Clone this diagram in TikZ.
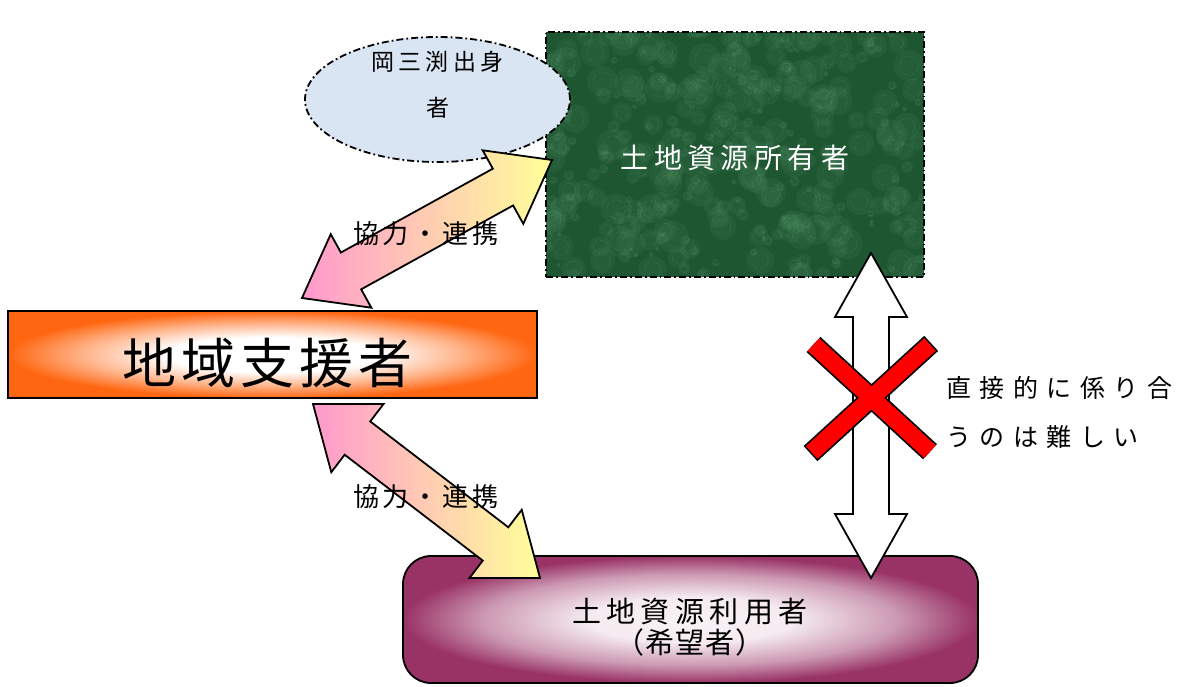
\documentclass[tikz,border=0pt]{standalone}
\usepackage{fontspec}
\newfontfamily\jp{Noto Sans CJK JP}
\usetikzlibrary{shapes.geometric,calc}
\definecolor{orgC}{HTML}{FF6611}
\definecolor{marC}{HTML}{993366}
\definecolor{grnC}{HTML}{1F5632}
\definecolor{grnL}{HTML}{7CC595}
\definecolor{ellC}{HTML}{DAE5F3}
\definecolor{pinkC}{HTML}{FF99CC}
\definecolor{yelC}{HTML}{FFFF99}
\definecolor{redC}{HTML}{FF0000}
\pgfdeclareradialshading{orgglow}{\pgfpoint{0bp}{0bp}}{color(0bp)=(white); color(10bp)=(white); color(18bp)=(orgC!50!white); color(25bp)=(orgC); color(50bp)=(orgC)}
\pgfdeclareradialshading{marglow}{\pgfpoint{0bp}{0bp}}{color(0bp)=(marC!6!white); color(9bp)=(marC!10!white); color(18bp)=(marC!50!white); color(25bp)=(marC); color(50bp)=(marC)}
\makeatletter
\newcommand\ltsp[2]{\def\lt@first{1}\@tfor\lt@c:=#2\do{\ifx\lt@first\@empty\hspace{#1}\fi\let\lt@first\@empty\lt@c}}
\makeatother
% block double arrow: tips #1,#2; head length #3; head half width #4; shaft half width #5; style #6
\newcommand\myblockarrow[6]{%
  \coordinate (bh1) at ($(#1)!#3!(#2)$);
  \coordinate (bh2) at ($(#2)!#3!(#1)$);
  \path[#6] (#1) -- ($(bh1)!#4!90:(#1)$) -- ($(bh1)!#5!90:(#1)$)
    -- ($(bh2)!#5!-90:(#2)$) -- ($(bh2)!#4!-90:(#2)$) -- (#2)
    -- ($(bh2)!#4!90:(#2)$) -- ($(bh2)!#5!90:(#2)$)
    -- ($(bh1)!#5!-90:(#1)$) -- ($(bh1)!#4!-90:(#1)$) -- cycle;}
\tikzset{
  box/.style={draw=black, line width=1.8pt},
  dashdotline/.style={dash pattern=on 7pt off 3pt on 1.8pt off 3pt},
  coop/.style={draw=black, line width=1.8pt, line join=miter, left color=pinkC, right color=yelC},
  lbl/.style={inner sep=0pt, text=black},
}
\begin{document}
\begin{tikzpicture}[x=1pt,y=-1pt]
\useasboundingbox (0,0) rectangle (1186,686);
\fill[white] (0,0) rectangle (1186,686);
% land owner (green textured)
\node[box, dashdotline, fill=grnC, minimum width=378pt, minimum height=245pt, inner sep=0pt,
  path picture={
    \pgfmathsetseed{11}
    \foreach \i in {1,...,340}{
      \pgfmathsetmacro\xx{-189+378*rnd}
      \pgfmathsetmacro\yy{-122.5+245*rnd}
      \pgfmathsetmacro\rr{2+14*rnd}
      \fill[grnL, opacity=0.07] (\xx,\yy) circle (\rr);
      \draw[grnL, opacity=0.14, line width=0.7pt] (\xx,\yy) circle (0.6*\rr);
    }
  }] (owner) at (735,154.5) {};
% ellipse
\node[ellipse, box, dashdotline, fill=ellC, minimum width=265pt, minimum height=125pt] (oka) at (437.5,99.5) {};
% regional supporter
\node[box, shading=orgglow, minimum width=529pt, minimum height=87pt] (sup) at (272.5,354.5) {};
% land user
\node[box, rounded corners=28pt, shading=marglow, minimum width=575pt, minimum height=127pt] (user) at (690.5,619.5) {};
% cooperation arrows
\coordinate (a1) at (302,298);
\coordinate (b1) at (552,160);
\myblockarrow{a1}{b1}{56pt}{42pt}{21pt}{coop}
\coordinate (a2) at (313,404);
\coordinate (b2) at (540,578);
\myblockarrow{a2}{b2}{56pt}{43pt}{21pt}{coop}
% white vertical arrow
\coordinate (wa) at (871,253);
\coordinate (wb) at (871,578);
\myblockarrow{wa}{wb}{64pt}{36pt}{18pt}{draw=black, fill=white, line width=1.8pt, line join=miter}
% red cross
\coordinate (x1a) at (813.5,344.5);
\coordinate (x1b) at (930,451.7);
\coordinate (x2a) at (930,344.5);
\coordinate (x2b) at (811.7,452.5);
\draw[line width=20.5pt, black, shorten <=-1.6pt, shorten >=-1.6pt] (x1a) -- (x1b) (x2a) -- (x2b);
\draw[line width=17pt, redC] (x1a) -- (x1b) (x2a) -- (x2b);
% texts
\node[lbl, font=\jp\fontsize{23}{46}\selectfont, align=center] (okat) at (437.5,85) {\ltsp{4.2pt}{岡三渕出身}\\者};
\node[lbl, text=white, font=\jp\fontsize{28}{30}\selectfont] (ownt) at (735,158) {\ltsp{5.4pt}{土地資源所有者}};
\node[lbl, font=\jp\fontsize{54}{60}\selectfont] (supt) at (267.5,363) {\ltsp{5pt}{地域支援者}};
\node[lbl, font=\jp\fontsize{26}{30}\selectfont] (c1) at (426,234) {\ltsp{4pt}{協力・連携}};
\node[lbl, font=\jp\fontsize{26}{30}\selectfont] (c2) at (426,497) {\ltsp{4pt}{協力・連携}};
\node[lbl, anchor=west, align=left, font=\jp\fontsize{25}{49}\selectfont] (hard) at (946,412.5) {\ltsp{8.5pt}{直接的に係り合}\\\ltsp{8.5pt}{うのは難しい}};
\node[lbl, font=\jp\fontsize{29}{31}\selectfont, align=center] (usert) at (690,627.5) {\ltsp{5.5pt}{土地資源利用者}\\\ltsp{1pt}{（希望者）}};
\end{tikzpicture}
\end{document}
